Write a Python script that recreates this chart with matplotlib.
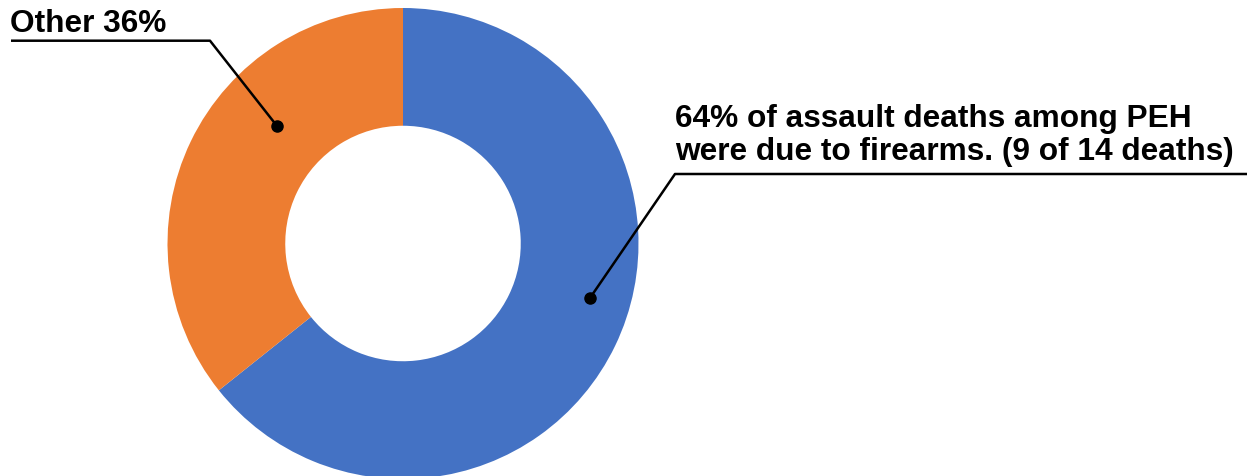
import matplotlib
matplotlib.use("Agg")
import matplotlib.pyplot as plt

# Assault deaths among PEH by cause
categories = ["Firearms", "Other"]
deaths = [9, 5]
colors = ["#4472C4", "#ED7D31"]

W, H = 1250, 477
fig = plt.figure(figsize=(W / 100, H / 100), dpi=100)
ax = fig.add_axes([0, 0, 1, 1])

# work in pixel-like coordinates (y measured from the top)
cx, cy = 403, 244.5
R = 235.5

def py(y):
    return H - y

wedges, _ = ax.pie(deaths, colors=colors, startangle=90, counterclock=False,
                   center=(cx, py(cy)), radius=R,
                   wedgeprops=dict(width=R / 2, linewidth=0), frame=True)
ax.set_xlim(0, W)
ax.set_ylim(0, H)
ax.set_aspect("equal")
ax.axis("off")

total = sum(deaths)
pct = [round(100 * d / total) for d in deaths]

font = dict(family=["Liberation Sans", "DejaVu Sans"], weight="bold",
            fontsize=22.8, color="black")

# "Other" callout
ax.text(10, py(31.7), f"Other {pct[1]}%", ha="left", va="baseline", **font)
ax.plot([11, 210, 277], [py(41.7), py(41.7), py(127)], color="black", lw=1.8,
        solid_capstyle="butt")
ax.plot([277], [py(127)], "o", color="black", markersize=8)

# Firearms callout
ax.text(675, py(126.7), f"{pct[0]}% of assault deaths among PEH",
        ha="left", va="baseline", **font)
ax.text(675, py(160), f"were due to firearms. ({deaths[0]} of {total} deaths)",
        ha="left", va="baseline", **font)
ax.plot([1247, 675, 590], [py(175), py(175), py(299)], color="black", lw=1.8,
        solid_capstyle="butt")
ax.plot([590], [py(299)], "o", color="black", markersize=8)

fig.savefig("out.png", dpi=100, facecolor="white")
